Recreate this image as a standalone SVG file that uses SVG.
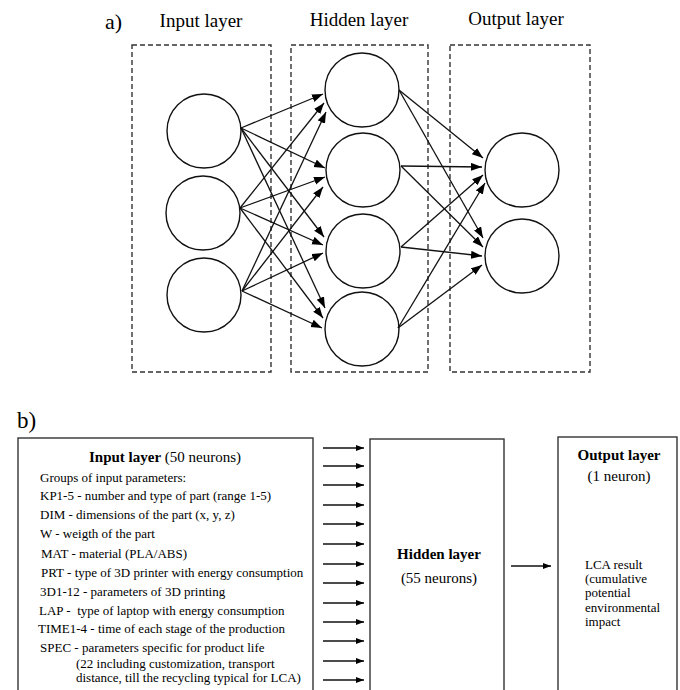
<svg xmlns="http://www.w3.org/2000/svg" width="680" height="690" viewBox="0 0 680 690">
<defs>
<marker id="ah" markerUnits="userSpaceOnUse" markerWidth="12" markerHeight="9" refX="11" refY="4" orient="auto"><path d="M0,0 L11,4 L0,8 z" fill="#000"/></marker>
<marker id="ahs" markerUnits="userSpaceOnUse" markerWidth="9" markerHeight="7" refX="8" refY="3" orient="auto"><path d="M0,0 L8,3 L0,6 z" fill="#000"/></marker>
<style>
.serif{font-family:"Liberation Serif","Times New Roman",serif;fill:#000}
.lab{font-size:19px}
.dash{fill:none;stroke:#333;stroke-width:1.4;stroke-dasharray:5,3}
.neu{fill:#fff;stroke:#111;stroke-width:1.4}
.e{stroke:#111;stroke-width:1.3;fill:none;marker-end:url(#ah)}
.box{fill:#fff;stroke:#333;stroke-width:1.4}
.sa{stroke:#111;stroke-width:1.3;fill:none;marker-end:url(#ahs)}
.t13{font-size:13px}
.t15{font-size:15px}
.b{font-weight:bold}
</style>
</defs>
<rect width="680" height="690" fill="#fff"/>
<!-- part a -->
<text class="serif" x="105" y="29" font-size="22">a)</text>
<g id="input-layer-a">
<rect class="dash" x="132" y="45" width="139" height="327"/>
<text class="serif lab" x="201" y="27" text-anchor="middle">Input layer</text>
<circle class="neu" cx="204" cy="131" r="37"/>
<circle class="neu" cx="203" cy="213" r="37"/>
<circle class="neu" cx="204" cy="295" r="37"/>
</g>
<g id="hidden-layer-a">
<rect class="dash" x="291" y="45" width="137" height="327"/>
<text class="serif lab" x="359" y="26" text-anchor="middle">Hidden layer</text>
<circle class="neu" cx="362" cy="90" r="37"/>
<circle class="neu" cx="363" cy="170" r="37"/>
<circle class="neu" cx="363" cy="251" r="37"/>
<circle class="neu" cx="362" cy="329" r="37"/>
</g>
<g id="output-layer-a">
<rect class="dash" x="450" y="45" width="140" height="327"/>
<text class="serif lab" x="516" y="25" text-anchor="middle">Output layer</text>
<circle class="neu" cx="522" cy="170" r="37"/>
<circle class="neu" cx="522" cy="256" r="37"/>
</g>
<g id="connectors-a">
<line class="e" x1="241" y1="128" x2="323" y2="94"/>
<line class="e" x1="240" y1="208" x2="324" y2="103"/>
<line class="e" x1="242" y1="291" x2="326" y2="112"/>
<line class="e" x1="241" y1="128" x2="325" y2="168"/>
<line class="e" x1="240" y1="208" x2="325" y2="177"/>
<line class="e" x1="242" y1="291" x2="323" y2="187"/>
<line class="e" x1="241" y1="128" x2="324" y2="237"/>
<line class="e" x1="240" y1="208" x2="323" y2="245"/>
<line class="e" x1="242" y1="291" x2="323" y2="253"/>
<line class="e" x1="241" y1="128" x2="325" y2="308"/>
<line class="e" x1="240" y1="208" x2="323" y2="318"/>
<line class="e" x1="242" y1="291" x2="322" y2="328"/>
<line class="e" x1="399" y1="90" x2="483" y2="158"/>
<line class="e" x1="401" y1="166" x2="482" y2="167"/>
<line class="e" x1="401" y1="247" x2="483" y2="175"/>
<line class="e" x1="398" y1="328" x2="485" y2="183"/>
<line class="e" x1="399" y1="90" x2="483" y2="238"/>
<line class="e" x1="401" y1="166" x2="483" y2="247"/>
<line class="e" x1="401" y1="247" x2="482" y2="256"/>
<line class="e" x1="398" y1="328" x2="482" y2="265"/>
</g>
<!-- part b -->
<text class="serif" x="17" y="428" font-size="23">b)</text>
<g id="input-layer-b">
<rect class="box" x="18" y="438" width="295" height="260"/>
<text class="serif t15" x="165" y="462" text-anchor="middle"><tspan class="b">Input layer</tspan> (50 neurons)</text>
<text class="serif t13" x="40" y="482" font-size="12.5">Groups of input parameters:</text>
<text class="serif t13" x="40" y="500">KP1-5 - number and type of part (range 1-5)</text>
<text class="serif t13" x="40" y="519">DIM - dimensions of the part (x, y, z)</text>
<text class="serif t13" x="40" y="538">W - weigth of the part</text>
<text class="serif t13" x="41" y="558">MAT - material (PLA/ABS)</text>
<text class="serif t13" x="41" y="577">PRT - type of 3D printer with energy consumption</text>
<text class="serif t13" x="40" y="596">3D1-12 - parameters of 3D printing</text>
<text class="serif t13" x="39" y="615" xml:space="preserve">LAP -  type of laptop with energy consumption</text>
<text class="serif t13" x="38" y="633">TIME1-4 - time of each stage of the production</text>
<text class="serif t13" x="40" y="652">SPEC - parameters specific for product life</text>
<text class="serif t13" x="76" y="668">(22 including customization, transport</text>
<text class="serif t13" x="76" y="682">distance, till the recycling typical for LCA)</text>
</g>
<g id="hidden-layer-b">
<rect class="box" x="370" y="439" width="134" height="260"/>
<text class="serif t15 b" x="439" y="559" text-anchor="middle">Hidden layer</text>
<text class="serif t15" x="439" y="583" text-anchor="middle">(55 neurons)</text>
</g>
<g id="output-layer-b">
<rect class="box" x="558" y="437" width="119" height="262"/>
<text class="serif t15 b" x="619" y="460" text-anchor="middle">Output layer</text>
<text class="serif t15" x="619" y="481" text-anchor="middle">(1 neuron)</text>
<text class="serif t13" x="585" y="569">LCA result</text>
<text class="serif t13" x="585" y="583">(cumulative</text>
<text class="serif t13" x="585" y="597">potential</text>
<text class="serif t13" x="585" y="612">environmental</text>
<text class="serif t13" x="585" y="626">impact</text>
</g>
<g id="connectors-b">
<line class="sa" x1="323" y1="448" x2="364" y2="448"/>
<line class="sa" x1="323" y1="466" x2="364" y2="466"/>
<line class="sa" x1="323" y1="485" x2="364" y2="485"/>
<line class="sa" x1="323" y1="505" x2="364" y2="505"/>
<line class="sa" x1="323" y1="524" x2="364" y2="524"/>
<line class="sa" x1="323" y1="544" x2="364" y2="544"/>
<line class="sa" x1="323" y1="564" x2="364" y2="564"/>
<line class="sa" x1="323" y1="583" x2="364" y2="583"/>
<line class="sa" x1="323" y1="603" x2="364" y2="603"/>
<line class="sa" x1="323" y1="622" x2="364" y2="622"/>
<line class="sa" x1="323" y1="641" x2="364" y2="641"/>
<line class="sa" x1="323" y1="661" x2="364" y2="661"/>
<line class="sa" x1="323" y1="680" x2="364" y2="680"/>
<line class="sa" x1="511" y1="566" x2="551" y2="566"/>
</g>
</svg>
